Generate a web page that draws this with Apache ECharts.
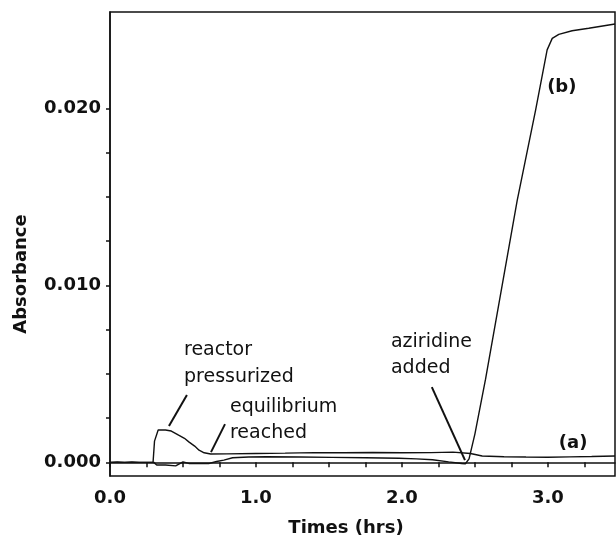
<!DOCTYPE html>
<html>
<head>
<meta charset="utf-8">
<script src="https://cdn.jsdelivr.net/npm/echarts@6/dist/echarts.min.js"></script>
<style>html,body{margin:0;padding:0;background:#fff;}#chart{width:616px;height:543px;}</style>
</head>
<body>
<div id="chart"></div>
<script>
// Curve (a): reactor pressurized peak, then flat baseline
var timesA = [0, 0.05, 0.1, 0.15, 0.2, 0.25, 0.295, 0.305, 0.33, 0.38, 0.42, 0.47, 0.51, 0.54, 0.58, 0.61, 0.645, 0.69, 0.8, 1.0, 1.2, 1.4, 1.6, 1.8, 2.0, 2.2, 2.35, 2.47, 2.55, 2.7, 2.85, 3.0, 3.15, 3.3, 3.46];
var absA   = [0, 0.00002, 0, 0.00002, 0, 0, 0, 0.0012, 0.00183, 0.00183, 0.00177, 0.00154, 0.00136, 0.00116, 0.00092, 0.00069, 0.00054, 0.00047, 0.00048, 0.0005, 0.00052, 0.00055, 0.00054, 0.00056, 0.00054, 0.00055, 0.00058, 0.0005, 0.00036, 0.00032, 0.0003, 0.00029, 0.00031, 0.00033, 0.00036];
// Curve (b): lower baseline, aziridine added, steep rise
var timesB = [0, 0.1, 0.2, 0.3, 0.32, 0.38, 0.45, 0.5, 0.54, 0.6, 0.68, 0.73, 0.78, 0.84, 0.95, 1.07, 1.3, 1.52, 1.75, 1.98, 2.1, 2.21, 2.32, 2.41, 2.435, 2.46, 2.5, 2.573, 2.79, 2.916, 2.995, 3.03, 3.075, 3.166, 3.28, 3.46];
var absB   = [0, 0, 0, 0, -0.00015, -0.00015, -0.0002, 0.00003, -0.00006, -0.00006, -0.00006, 0.00005, 0.00013, 0.00026, 0.0003, 0.00032, 0.0003, 0.00028, 0.00026, 0.00023, 0.0002, 0.00015, 0.00003, -0.00006, -0.00008, 0.0002, 0.0016, 0.0047, 0.0148, 0.0199, 0.0233, 0.02395, 0.02418, 0.02438, 0.02452, 0.02476];

// Axis ticks and labels
var xTicks = [0, 0.25, 0.5, 0.75, 1, 1.25, 1.5, 1.75, 2, 2.25, 2.5, 2.75, 3, 3.25];
var xLabels = [0, 1, 2, 3];
var yTicks = [0, 0.0025, 0.005, 0.0075, 0.01, 0.0125, 0.015, 0.0175, 0.02];
var yLabels = [0, 0.01, 0.02];

// Annotations (text anchored at left-middle)
var annoText = ["reactor", "pressurized", "equilibrium", "reached", "aziridine", "added", "(b)", "(a)"];
var annoT    = [0.507, 0.507, 0.822, 0.822, 1.925, 1.925, 2.995, 3.075];
var annoV    = [0.00634, 0.00482, 0.00312, 0.00166, 0.0068, 0.00533, 0.0212, 0.00109];
var annoBold = [false, false, false, false, false, false, true, true];

// Leader lines [t1, v1, t2, v2]
var leaders = [
  [0.527, 0.0038, 0.404, 0.00205],
  [0.788, 0.00216, 0.692, 0.00058],
  [2.205, 0.00425, 2.432, 0.00013]
];

function pairs(t, v) { return t.map(function (x, i) { return [x, v[i]]; }); }

var chart = echarts.init(document.getElementById('chart'), null, { renderer: 'canvas' });
var FONT = 'DejaVu Sans';
var INK = '#111111';

chart.setOption({
  animation: false,
  backgroundColor: '#fff',
  grid: { left: 110, right: 1, top: 12, bottom: 67, show: true, borderColor: INK, borderWidth: 1.5, backgroundColor: 'transparent' },
  xAxis: {
    type: 'value', min: 0, max: 3.46,
    name: 'Times (hrs)', nameLocation: 'middle', nameGap: 43,
    nameTextStyle: { fontFamily: FONT, fontWeight: 'bold', fontSize: 18, color: INK, padding: [0, 33, 0, 0] },
    axisLine: { show: true, lineStyle: { color: INK, width: 1.5 } },
    axisTick: { show: true, inside: false, length: 5, customValues: xTicks, lineStyle: { color: INK, width: 1.5 } },
    axisLabel: { customValues: xLabels, margin: 13, fontFamily: FONT, fontWeight: 'bold', fontSize: 18, color: INK,
      formatter: function (v) { return v.toFixed(1); } },
    splitLine: { show: false }
  },
  yAxis: {
    type: 'value', min: -0.00077, max: 0.02544,
    name: 'Absorbance', nameLocation: 'middle', nameGap: 80, nameRotate: 90,
    nameTextStyle: { fontFamily: FONT, fontWeight: 'bold', fontSize: 18, color: INK, padding: [0, 60, 0, 0] },
    axisLine: { show: true, lineStyle: { color: INK, width: 1.5 } },
    axisTick: { show: true, inside: false, length: 4, customValues: yTicks, lineStyle: { color: INK, width: 1.5 } },
    axisLabel: { customValues: yLabels, margin: 9, fontFamily: FONT, fontWeight: 'bold', fontSize: 18, color: INK,
      formatter: function (v) { return v.toFixed(3); } },
    splitLine: { show: false }
  },
  series: [
    {
      name: '(a)', type: 'line', data: pairs(timesA, absA), showSymbol: false, symbol: 'none',
      lineStyle: { color: INK, width: 1.4 }, z: 3
    },
    {
      name: '(b)', type: 'line', data: pairs(timesB, absB), showSymbol: false, symbol: 'none',
      lineStyle: { color: INK, width: 1.4 }, z: 3,
      markLine: {
        silent: true, symbol: ['none', 'none'], label: { show: false },
        lineStyle: { color: INK, width: 2, type: 'solid', opacity: 1 },
        data: leaders.map(function (l) { return [{ coord: [l[0], l[1]] }, { coord: [l[2], l[3]] }]; })
      }
    },
    {
      name: 'annotations', type: 'scatter', symbolSize: 0, silent: true, z: 5,
      itemStyle: { opacity: 1, color: INK },
      data: annoText.map(function (s, i) {
        return {
          value: [annoT[i], annoV[i]],
          label: { show: true, formatter: s, position: 'right', distance: 0, align: 'left', verticalAlign: 'middle',
            opacity: 1, fontFamily: FONT, fontSize: annoBold[i] ? 18 : 19, fontWeight: annoBold[i] ? 'bold' : 'normal', color: INK }
        };
      })
    }
  ]
});
</script>
</body>
</html>
